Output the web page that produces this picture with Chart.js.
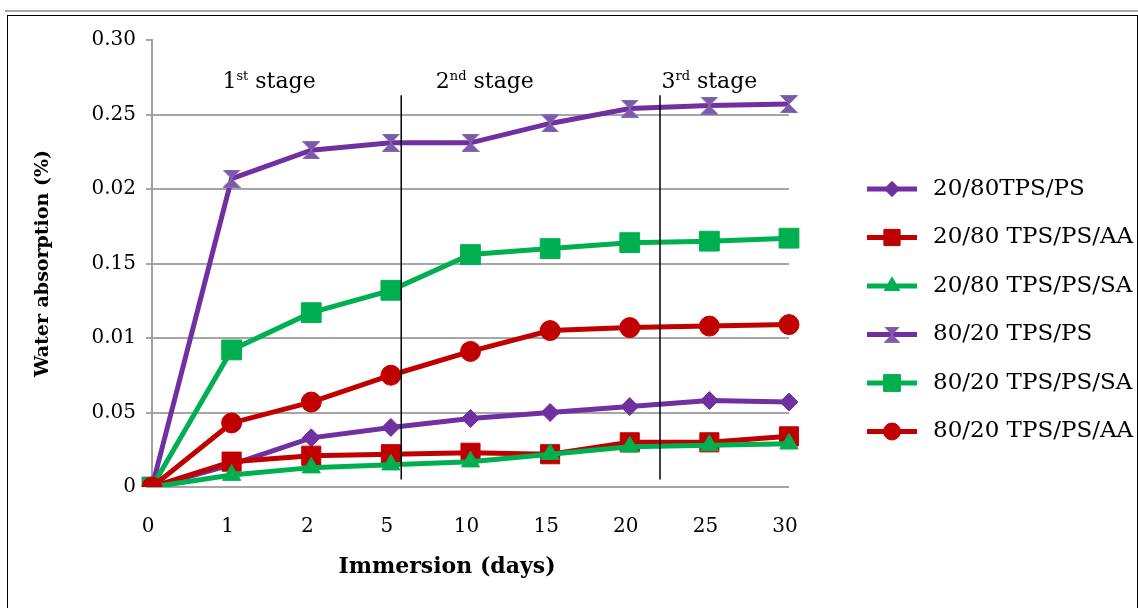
<!DOCTYPE html>
<html><head><meta charset="utf-8">
<script src="https://cdn.jsdelivr.net/npm/chart.js@4.4.1/dist/chart.umd.min.js"></script>
<style>
html,body{margin:0;padding:0;background:#fff;width:1138px;height:608px;overflow:hidden}
#wrap{position:absolute;left:0;top:0;width:1138px;height:608px}
#topline{position:absolute;left:5px;top:10px;width:1133px;height:2px;background:#a8a8a8}
#frame{position:absolute;left:7px;top:14.5px;width:1131px;height:600px;border:1.5px solid #000;border-bottom:none;box-sizing:border-box}
</style></head><body>
<div id="wrap"><canvas id="c" width="1138" height="608"></canvas></div>
<div id="topline"></div><div id="frame"></div>
<script>
// ---- data ----
const days = ['0','1','2','5','10','15','20','25','30'];
const yTickLabels = ['0','0.05','0.01','0.15','0.02','0.25','0.30'];
const seriesNames = ['20/80TPS/PS','20/80 TPS/PS/AA','20/80 TPS/PS/SA','80/20 TPS/PS','80/20 TPS/PS/SA','80/20 TPS/PS/AA'];
const tps2080 = [0, 0.015, 0.033, 0.040, 0.046, 0.050, 0.054, 0.058, 0.057];
const tps2080AA = [0, 0.017, 0.021, 0.022, 0.023, 0.022, 0.030, 0.030, 0.034];
const tps2080SA = [0, 0.008, 0.013, 0.015, 0.017, 0.022, 0.027, 0.028, 0.029];
const tps8020 = [0, 0.207, 0.226, 0.231, 0.231, 0.244, 0.254, 0.256, 0.257];
const tps8020SA = [0, 0.092, 0.117, 0.132, 0.156, 0.160, 0.164, 0.165, 0.167];
const tps8020AA = [0, 0.043, 0.057, 0.075, 0.091, 0.105, 0.107, 0.108, 0.109];
const xTitle = 'Immersion (days)';
const yTitle = 'Water absorption (%)';
const stageNums = ['1','2','3'];
const stageSups = ['st','nd','rd'];
const stageCenters = [1.47, 4.18, 7.0];
const stageBoundaries = [3.13, 6.38];

const PURPLE = '#7030A0', RED = '#C00000', GREEN = '#00B050';

function hourglass(size){
  const c = document.createElement('canvas');
  c.width = size; c.height = size;
  const g = c.getContext('2d');
  g.beginPath();
  g.moveTo(0.5,0.5); g.lineTo(size-0.5,0.5); g.lineTo(0.5,size-0.5); g.lineTo(size-0.5,size-0.5); g.closePath();
  g.fillStyle = '#7b5ba5'; g.fill();
  g.strokeStyle = '#8a68b8'; g.lineWidth = 1; g.stroke();
  return c;
}
const hgBig = hourglass(18);

const styles = [
  {c: PURPLE, ps: 'rectRot', r: 9},
  {c: RED, ps: 'rect', r: 13.5},
  {c: GREEN, ps: 'triangle', r: 10.5},
  {c: PURPLE, ps: hgBig, r: 9},
  {c: GREEN, ps: 'rect', r: 14},
  {c: RED, ps: 'circle', r: 10}
];
const allData = [tps2080, tps2080AA, tps2080SA, tps8020, tps8020SA, tps8020AA];

const datasets = allData.map((d, i) => ({
  label: seriesNames[i],
  data: d,
  borderColor: styles[i].c,
  backgroundColor: styles[i].c,
  pointBackgroundColor: styles[i].c,
  pointBorderColor: styles[i].c,
  pointStyle: styles[i].ps,
  pointRadius: styles[i].r,
  pointHoverRadius: styles[i].r,
  pointBorderWidth: 1,
  borderWidth: 5,
  tension: 0,
  order: 10 - i
}));

const SERIF = '"DejaVu Serif", serif';

const deco = {
  id: 'deco',
  afterDatasetsDraw(chart) {
    const {ctx} = chart;
    const x = chart.scales.x, y = chart.scales.y;
    ctx.save();
    // stage boundaries
    ctx.strokeStyle = '#000'; ctx.lineWidth = 1.5;
    stageBoundaries.forEach(b => {
      const px = x.getPixelForValue(b);
      ctx.beginPath();
      ctx.moveTo(px, y.getPixelForValue(0.263));
      ctx.lineTo(px, y.getPixelForValue(0.005));
      ctx.stroke();
    });
    // stage labels
    ctx.fillStyle = '#000';
    ctx.textBaseline = 'alphabetic';
    const by = y.getPixelForValue(0.268);
    stageNums.forEach((n, i) => {
      const big = '22px ' + SERIF, small = '13px ' + SERIF;
      ctx.font = big; const w1 = ctx.measureText(n).width;
      const w3 = ctx.measureText(' stage').width;
      ctx.font = small; const w2 = ctx.measureText(stageSups[i]).width;
      let sx = x.getPixelForValue(stageCenters[i]) - (w1 + w2 + w3) / 2;
      ctx.font = big; ctx.textAlign = 'left'; ctx.fillText(n, sx, by);
      ctx.font = small; ctx.fillText(stageSups[i], sx + w1, by - 8);
      ctx.font = big; ctx.fillText(' stage', sx + w1 + w2, by);
    });
    // x axis title
    ctx.font = 'bold 22px ' + SERIF; ctx.textAlign = 'center'; ctx.textBaseline = 'middle';
    ctx.fillText(xTitle, 447, 567);
    // legend
    const lx0 = 867, lx1 = 917, tx = 933;
    chart.data.datasets.forEach((ds, i) => {
      const cy = 189 + i * 48.5;
      ctx.strokeStyle = ds.borderColor; ctx.lineWidth = 5;
      ctx.beginPath(); ctx.moveTo(lx0, cy); ctx.lineTo(lx1, cy); ctx.stroke();
      const cx = (lx0 + lx1) / 2;
      if (typeof ds.pointStyle === 'string') {
        ctx.fillStyle = ds.pointBackgroundColor; ctx.strokeStyle = ds.pointBorderColor; ctx.lineWidth = 1;
        Chart.helpers.drawPoint(ctx, {pointStyle: ds.pointStyle, rotation: 0, borderWidth: 1, radius: ds.pointRadius * 0.85}, cx, cy);
      } else {
        ctx.drawImage(ds.pointStyle, cx - 8, cy - 8, 16, 16);
      }
      ctx.fillStyle = '#000';
      ctx.font = '23px ' + SERIF; ctx.textAlign = 'left'; ctx.textBaseline = 'middle';
      ctx.fillText(ds.label, tx, cy);
    });
    ctx.restore();
  }
};

new Chart(document.getElementById('c'), {
  type: 'line',
  data: {labels: days, datasets},
  plugins: [deco],
  options: {
    responsive: false,
    animation: false,
    layout: {padding: {top: 40, right: 349, bottom: 0, left: 0}},
    plugins: {legend: {display: false}, tooltip: {enabled: false}},
    scales: {
      x: {
        type: 'category',
        offset: false,
        grid: {display: false, drawTicks: false},
        border: {display: false},
        ticks: {color: '#000', font: {family: SERIF, size: 20}, padding: 28, labelOffset: -4, maxRotation: 0, autoSkip: false},
        afterFit(s) { s.height = 121; }
      },
      y: {
        min: 0, max: 0.30,
        ticks: {stepSize: 0.05, color: '#000', font: {family: SERIF, size: 20}, padding: 10,
          callback: (v, i) => yTickLabels[i]},
        grid: {color: ctx => (ctx.index === 6 ? 'rgba(0,0,0,0)' : '#a6a6a6'), tickColor: '#a6a6a6', lineWidth: 2, tickLength: 6},
        border: {color: '#a0a0a0', width: 2},
        title: {display: true, text: yTitle, color: '#000', font: {family: SERIF, size: 19, weight: 'bold'}, padding: {top: 32, bottom: 0}},
        afterFit(s) { s.width = 152; }
      }
    }
  }
});
</script>
</body></html>
